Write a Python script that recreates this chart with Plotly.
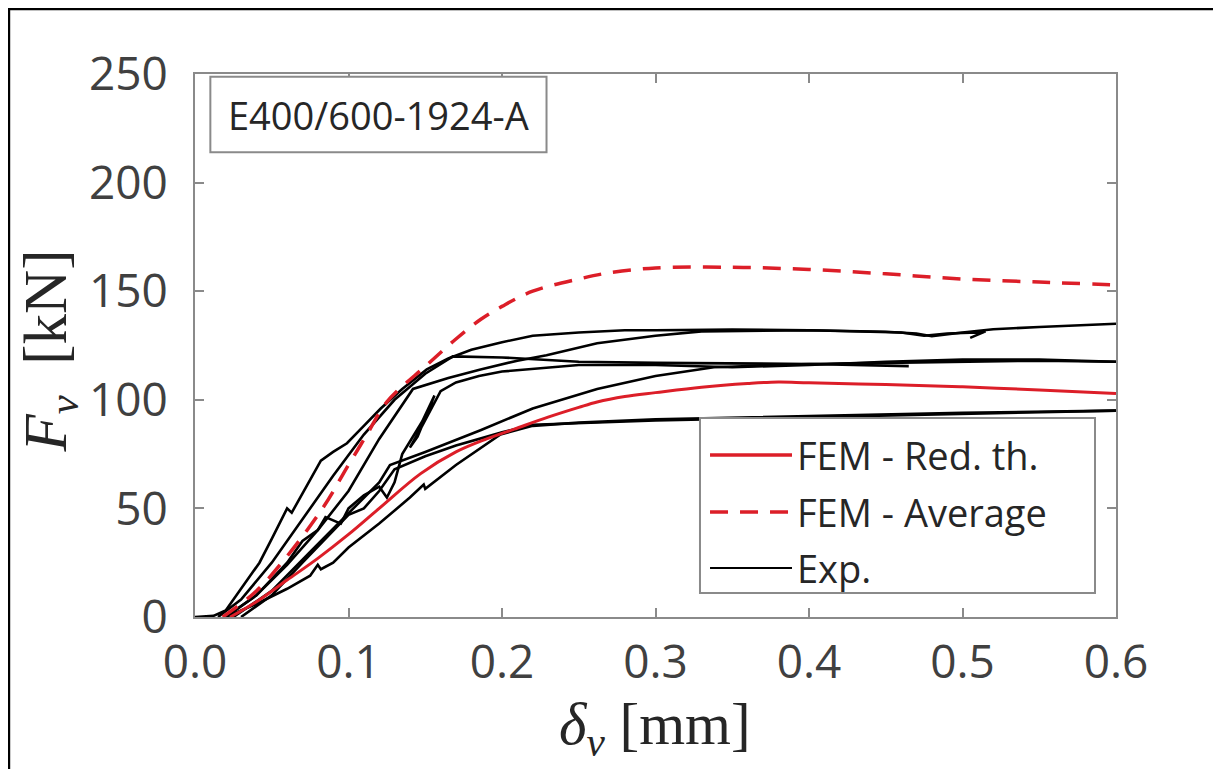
import plotly.graph_objects as go

# ---------------- data ----------------
fem_red_x = [0.023, 0.04, 0.06, 0.08, 0.10, 0.12, 0.147, 0.17, 0.19, 0.208, 0.23, 0.25, 0.262, 0.28, 0.30, 0.33, 0.36, 0.38, 0.40, 0.45, 0.50, 0.55, 0.60]
fem_red_y = [0, 7, 17, 27, 38, 50, 66, 76, 82, 86.5, 92, 96.5, 99, 101.5, 103.3, 105.8, 107.5, 108.2, 107.8, 107, 106, 104.5, 102.9]

fem_avg_x = [0.018, 0.04, 0.06, 0.084, 0.10, 0.112, 0.125, 0.151, 0.17, 0.186, 0.20, 0.22, 0.25, 0.27, 0.30, 0.35, 0.40, 0.45, 0.50, 0.55, 0.60]
fem_avg_y = [0, 12, 28, 51, 70, 84, 99, 116, 128, 137, 143, 150, 155.6, 158.5, 160.7, 161, 160, 158, 155.6, 154.2, 152.9]

exp1_x = [0, 0.012, 0.02, 0.03, 0.042, 0.05, 0.06, 0.063, 0.07, 0.082, 0.09, 0.099, 0.11, 0.121, 0.135, 0.151, 0.165, 0.18, 0.20, 0.22, 0.25, 0.28, 0.30, 0.35, 0.40, 0.45, 0.47, 0.48, 0.50, 0.52, 0.55, 0.60]
exp1_y = [0, 0.5, 3, 13, 25, 36, 50, 48, 57, 72, 76, 80, 88, 96, 105, 114, 119, 123, 126.5, 129.5, 131, 132, 132, 132.3, 132, 131.3, 130.5, 129.3, 131, 132.5, 133.5, 135]

exp2_x = [0.015, 0.03, 0.05, 0.07, 0.09, 0.11, 0.13, 0.15, 0.168, 0.20, 0.25, 0.30, 0.35, 0.40, 0.45, 0.50, 0.55, 0.60]
exp2_y = [0, 8, 25, 45, 65, 84, 100, 112, 120, 119.5, 117.5, 117, 116.8, 116.5, 117, 117.5, 118, 117.5]

exp3_x = [0.02, 0.04, 0.06, 0.08, 0.10, 0.12, 0.142, 0.165, 0.186, 0.21, 0.229, 0.262, 0.30, 0.33, 0.40, 0.46, 0.475, 0.49, 0.51, 0.515, 0.505]
exp3_y = [0, 10, 24, 40, 58, 82, 105, 110, 114, 118, 120.5, 126, 129.5, 131.5, 132, 131, 129.5, 130.5, 131, 131.5, 128.5]

exp4_x = [0.02, 0.04, 0.06, 0.07, 0.08, 0.085, 0.095, 0.10, 0.11, 0.12, 0.125, 0.13, 0.135, 0.148, 0.156, 0.152, 0.145, 0.14, 0.148, 0.16, 0.17, 0.185, 0.20, 0.25, 0.30, 0.35, 0.40, 0.45, 0.50, 0.55, 0.60]
exp4_y = [0, 10, 25, 35, 40, 46, 43, 50, 56, 60, 55, 62, 75, 90, 102, 95, 83, 78, 88, 104, 108, 111, 113, 116, 116, 115, 116, 117.5, 118.5, 118.5, 117.5]

exp5_x = [0.025, 0.05, 0.075, 0.10, 0.12, 0.127, 0.15, 0.186, 0.22, 0.262, 0.30, 0.338, 0.40, 0.465]
exp5_y = [0, 12, 30, 48, 62, 70, 76, 86, 96, 105, 111, 115, 116.5, 115.5]

exp6_x = [0.02, 0.04, 0.06, 0.075, 0.08, 0.082, 0.09, 0.10, 0.12, 0.14, 0.149, 0.15, 0.17, 0.199, 0.22, 0.25, 0.30, 0.40, 0.50, 0.60]
exp6_y = [0, 6, 13, 19, 24, 22, 25, 32, 43, 55, 61, 59, 70, 84, 88, 89.5, 91, 92.5, 94, 95]

exp7_x = [0.03, 0.05, 0.07, 0.09, 0.10, 0.11, 0.12, 0.13, 0.15, 0.17, 0.20, 0.22, 0.30, 0.40, 0.50, 0.60]
exp7_y = [0, 10, 25, 40, 47, 50, 58, 68, 74, 79, 85, 88.5, 90.5, 92, 93.5, 95]

exp_x = [exp1_x, exp2_x, exp3_x, exp4_x, exp5_x, exp6_x, exp7_x]
exp_y = [exp1_y, exp2_y, exp3_y, exp4_y, exp5_y, exp6_y, exp7_y]

x_ticks = [0.0, 0.1, 0.2, 0.3, 0.4, 0.5, 0.6]
x_tick_labels = ["0.0", "0.1", "0.2", "0.3", "0.4", "0.5", "0.6"]
y_ticks = [0, 50, 100, 150, 200, 250]
y_tick_labels = ["0", "50", "100", "150", "200", "250"]

specimen_label = "E400/600-1924-A"
legend_names = ["FEM - Red. th.", "FEM - Average", "Exp."]

# ---------------- figure ----------------
RED = "#dc1e28"
AXIS_GRAY = "#8a8a8a"
TEXT_GRAY = "#404040"
TEXT_DARK = "#262626"
RED_DASH = "18px,12px"

fig = go.Figure()

for xs, ys in zip(exp_x, exp_y):
    fig.add_trace(go.Scatter(x=xs, y=ys, mode="lines", line=dict(color="black", width=2.6),
                             name=legend_names[2], showlegend=False))

fig.add_trace(go.Scatter(x=fem_red_x, y=fem_red_y, mode="lines",
                         line=dict(color=RED, width=3, shape="spline"),
                         name=legend_names[0], showlegend=False))
fig.add_trace(go.Scatter(x=fem_avg_x, y=fem_avg_y, mode="lines",
                         line=dict(color=RED, width=3.5, dash=RED_DASH, shape="spline"),
                         name=legend_names[1], showlegend=False))

axis_common = dict(
    showline=True, linecolor=AXIS_GRAY, linewidth=2, mirror="ticks",
    ticks="inside", ticklen=9, tickwidth=2, tickcolor=AXIS_GRAY,
    showgrid=False, zeroline=False,
    tickfont=dict(family="Open Sans", size=46, color=TEXT_GRAY),
)

fig.update_xaxes(range=[0, 0.6], tickvals=x_ticks, ticktext=x_tick_labels,
                 ticklabelstandoff=4, **axis_common)
fig.update_yaxes(range=[0, 250], tickvals=y_ticks, ticktext=y_tick_labels,
                 ticklabelstandoff=16, **axis_common)

# specimen label box
fig.add_shape(type="rect", xref="x", yref="y", x0=0.01, x1=0.229, y0=214, y1=248.7,
              line=dict(color=AXIS_GRAY, width=2), fillcolor="white")
fig.add_annotation(x=0.1195, y=231.3, xref="x", yref="y", text=specimen_label, showarrow=False,
                   font=dict(family="Open Sans", size=38, color=TEXT_DARK))

# axis titles
fig.add_annotation(xref="paper", yref="paper", x=-0.158, y=0.49, xanchor="center", yanchor="middle",
                   textangle=-90, showarrow=False,
                   text="<i>F</i><sub><i>v</i></sub>  [kN]",
                   font=dict(family="Liberation Serif", size=61, color=TEXT_DARK))
fig.add_annotation(xref="paper", yref="paper", x=0.4995, y=-0.205, xanchor="center", yanchor="middle",
                   showarrow=False,
                   text="<i>δ</i><sub><i>v</i></sub> [mm]",
                   font=dict(family="Liberation Serif", size=59, color=TEXT_DARK))

# legend (box, line samples, labels) in paper coordinates
fig.add_shape(type="rect", xref="paper", yref="paper", x0=0.5483, x1=0.9772, y0=0.0442, y1=0.3665,
              line=dict(color=AXIS_GRAY, width=2), fillcolor="white")
legend_rows = [0.2983, 0.1934, 0.0902]
legend_styles = [dict(color=RED, width=3.5), dict(color=RED, width=3.5, dash=RED_DASH),
                 dict(color="black", width=2.2)]
for name, yr, st in zip(legend_names, legend_rows, legend_styles):
    fig.add_shape(type="line", xref="paper", yref="paper", x0=0.5592, x1=0.6482, y0=yr, y1=yr, line=st)
    fig.add_annotation(xref="paper", yref="paper", x=0.651, y=yr, xanchor="left", yanchor="middle",
                       text=name, showarrow=False,
                       font=dict(family="Open Sans", size=38, color=TEXT_DARK))

# outer frame (top and left edges visible)
fig.add_shape(type="rect", xref="paper", yref="paper", x0=-0.2020, x1=1.3, y0=-0.5, y1=1.1197,
              line=dict(color="black", width=2.5), fillcolor="white", layer="below")

fig.update_layout(
    width=1221, height=769, autosize=False,
    margin=dict(l=187, r=113, t=66, b=160),
    paper_bgcolor="white", plot_bgcolor="white",
    showlegend=False,
)

fig.write_html("out.html")
